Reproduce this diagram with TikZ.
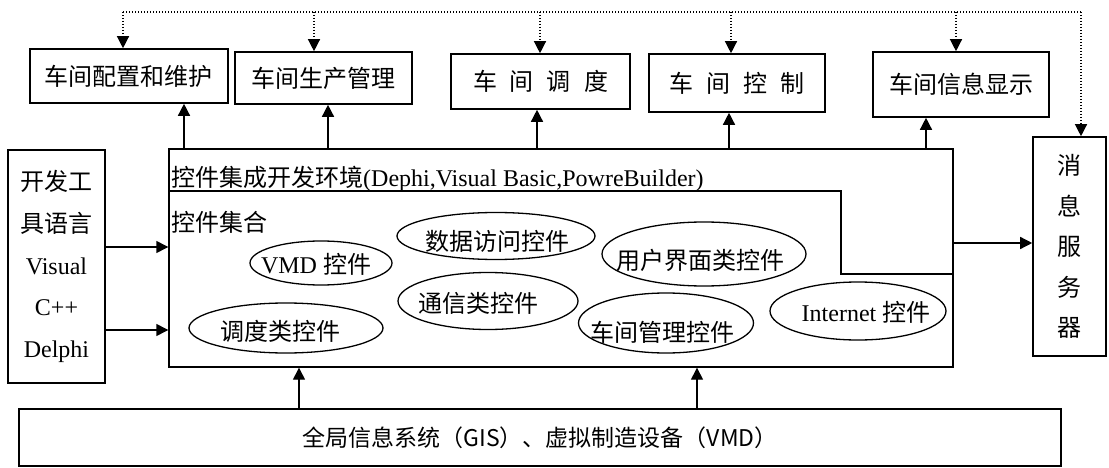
\documentclass[tikz,border=0pt]{standalone}
\usepackage{fontspec}
\setmainfont{Liberation Serif}
\newfontfamily\cjk{Noto Sans CJK SC}
\usetikzlibrary{arrows.meta,shapes.geometric}
\newcommand\sgap{\hspace{13pt}}
\begin{document}
\begin{tikzpicture}[x=1pt,y=-1pt,
  box/.style={draw,line width=1.6pt,inner sep=0pt,font=\fontsize{24}{28}\selectfont\cjk},
  frame/.style={draw,line width=1.4pt,inner sep=0pt},
  ell/.style={draw,ellipse,line width=1.3pt,inner sep=0pt},
  txt/.style={inner sep=0pt,font=\fontsize{24}{28}\selectfont},
  arr/.style={line width=1.4pt,-{Triangle[length=12pt,width=12pt]}},
  dotln/.style={line width=1.3pt,dash pattern=on 1.3pt off 1.7pt},
  dotarr/.style={dotln,-{Triangle[length=12pt,width=12pt]}}]
\useasboundingbox[fill=white] (0,0) rectangle (1109,468);

% top boxes
\node[box,minimum width=198pt,minimum height=54pt] (b1) at (129,76) {车间配置和维护};
\node[box,minimum width=177pt,minimum height=52pt] (b2) at (323.5,78) {车间生产管理};
\node[box,minimum width=179pt,minimum height=55pt] (b3) at (540.5,81.5) {车\sgap 间\sgap 调\sgap 度};
\node[box,minimum width=176pt,minimum height=58pt] (b4) at (737,83) {车\sgap 间\sgap 控\sgap 制};
\node[box,minimum width=176pt,minimum height=65pt] (b5) at (961,84.5) {车间信息显示};

% main frame
\node[frame,minimum width=784pt,minimum height=218pt] (main) at (561,258) {};
% development tools
\node[box,minimum width=97pt,minimum height=233pt,align=center,
      font=\fontsize{24}{41.75}\selectfont] (dev) at (56.5,266.5)
  {{\cjk 开发工}\\{\cjk 具语言}\\Visual\\C++\\Delphi};
% message server
\node[box,minimum width=73pt,minimum height=219pt,align=center,
      font=\fontsize{24}{40.5}\selectfont\cjk] (msg) at (1069.5,246.5)
  {消\\息\\服\\务\\器};
% bottom box
\node[draw,line width=1.1pt,inner sep=0pt,minimum width=1042pt,minimum height=57pt,
      font=\fontsize{23}{27}\selectfont\cjk] (bot) at (540,437.5)
  {全局信息系统（GIS）、虚拟制造设备（VMD）};

% inner stepped line and labels
\coordinate (s1) at (841,191);
\coordinate (s2) at (841,274);
\draw[line width=1.4pt] (main.west |- s1) -- (s1) -- (s2) -- (main.east |- s2);
\node[txt,anchor=base west] (title) at (171,186)
  {{\cjk 控件集成开发环境}(Dephi,Visual Basic,PowreBuilder)};
\node[txt,anchor=west,font=\fontsize{24}{28}\selectfont\cjk] (set) at (171,222) {控件集合};

% ellipses
\node[ell,minimum width=142pt,minimum height=44pt] (e1) at (321,263) {};
\node[ell,minimum width=198pt,minimum height=47pt] (e2) at (496,236) {};
\node[ell,minimum width=180pt,minimum height=57pt] (e3) at (488,301) {};
\node[ell,minimum width=194pt,minimum height=50pt] (e4) at (286,328) {};
\node[ell,minimum width=204pt,minimum height=64pt] (e5) at (704,254) {};
\node[ell,minimum width=175pt,minimum height=60pt] (e6) at (666,323) {};
\node[ell,minimum width=176pt,minimum height=58pt] (e7) at (858,311) {};
\node[txt] (t1) at (316,264) {VMD {\cjk 控件}};
\node[txt,font=\fontsize{24}{28}\selectfont\cjk] (t2) at (497,241) {数据访问控件};
\node[txt,font=\fontsize{24}{28}\selectfont\cjk] (t3) at (478,303) {通信类控件};
\node[txt,font=\fontsize{24}{28}\selectfont\cjk] (t4) at (280,331) {调度类控件};
\node[txt,font=\fontsize{24}{28}\selectfont\cjk] (t5) at (700,260) {用户界面类控件};
\node[txt,font=\fontsize{24}{28}\selectfont\cjk] (t6) at (662,332) {车间管理控件};
\node[txt] (t7) at (866,312) {Internet {\cjk 控件}};

% up arrows to top boxes
\coordinate (u1) at (184,0);
\coordinate (u2) at (328,0);
\coordinate (u3) at (537,0);
\coordinate (u4) at (729,0);
\coordinate (u5) at (926,0);
\draw[arr] (main.north -| u1) -- (b1.south -| u1);
\draw[arr] (main.north -| u2) -- (b2.south -| u2);
\draw[arr] (main.north -| u3) -- (b3.south -| u3);
\draw[arr] (main.north -| u4) -- (b4.south -| u4);
\draw[arr] (main.north -| u5) -- (b5.south -| u5);

% left arrows
\coordinate (l1) at (0,247);
\coordinate (l2) at (0,330);
\draw[arr] (dev.east |- l1) -- (main.west |- l1);
\draw[arr] (dev.east |- l2) -- (main.west |- l2);

% to message server
\coordinate (m1) at (0,243);
\draw[arr] (main.east |- m1) -- (msg.west |- m1);

% bottom arrows
\coordinate (g1) at (299,0);
\coordinate (g2) at (697,0);
\draw[arr] (bot.north -| g1) -- (main.south -| g1);
\draw[arr] (bot.north -| g2) -- (main.south -| g2);

% dotted distribution line
\coordinate (d1) at (123,12);
\coordinate (d2) at (314,12);
\coordinate (d3) at (540,12);
\coordinate (d4) at (731,12);
\coordinate (d5) at (956,12);
\coordinate (d6) at (1081,12);
\draw[dotln] (d1) -- (d6);
\draw[dotarr] (d1) -- (b1.north -| d1);
\draw[dotarr] (d2) -- (b2.north -| d2);
\draw[dotarr] (d3) -- (b3.north -| d3);
\draw[dotarr] (d4) -- (b4.north -| d4);
\draw[dotarr] (d5) -- (b5.north -| d5);
\draw[dotarr] (d6) -- (msg.north -| d6);
\end{tikzpicture}
\end{document}
